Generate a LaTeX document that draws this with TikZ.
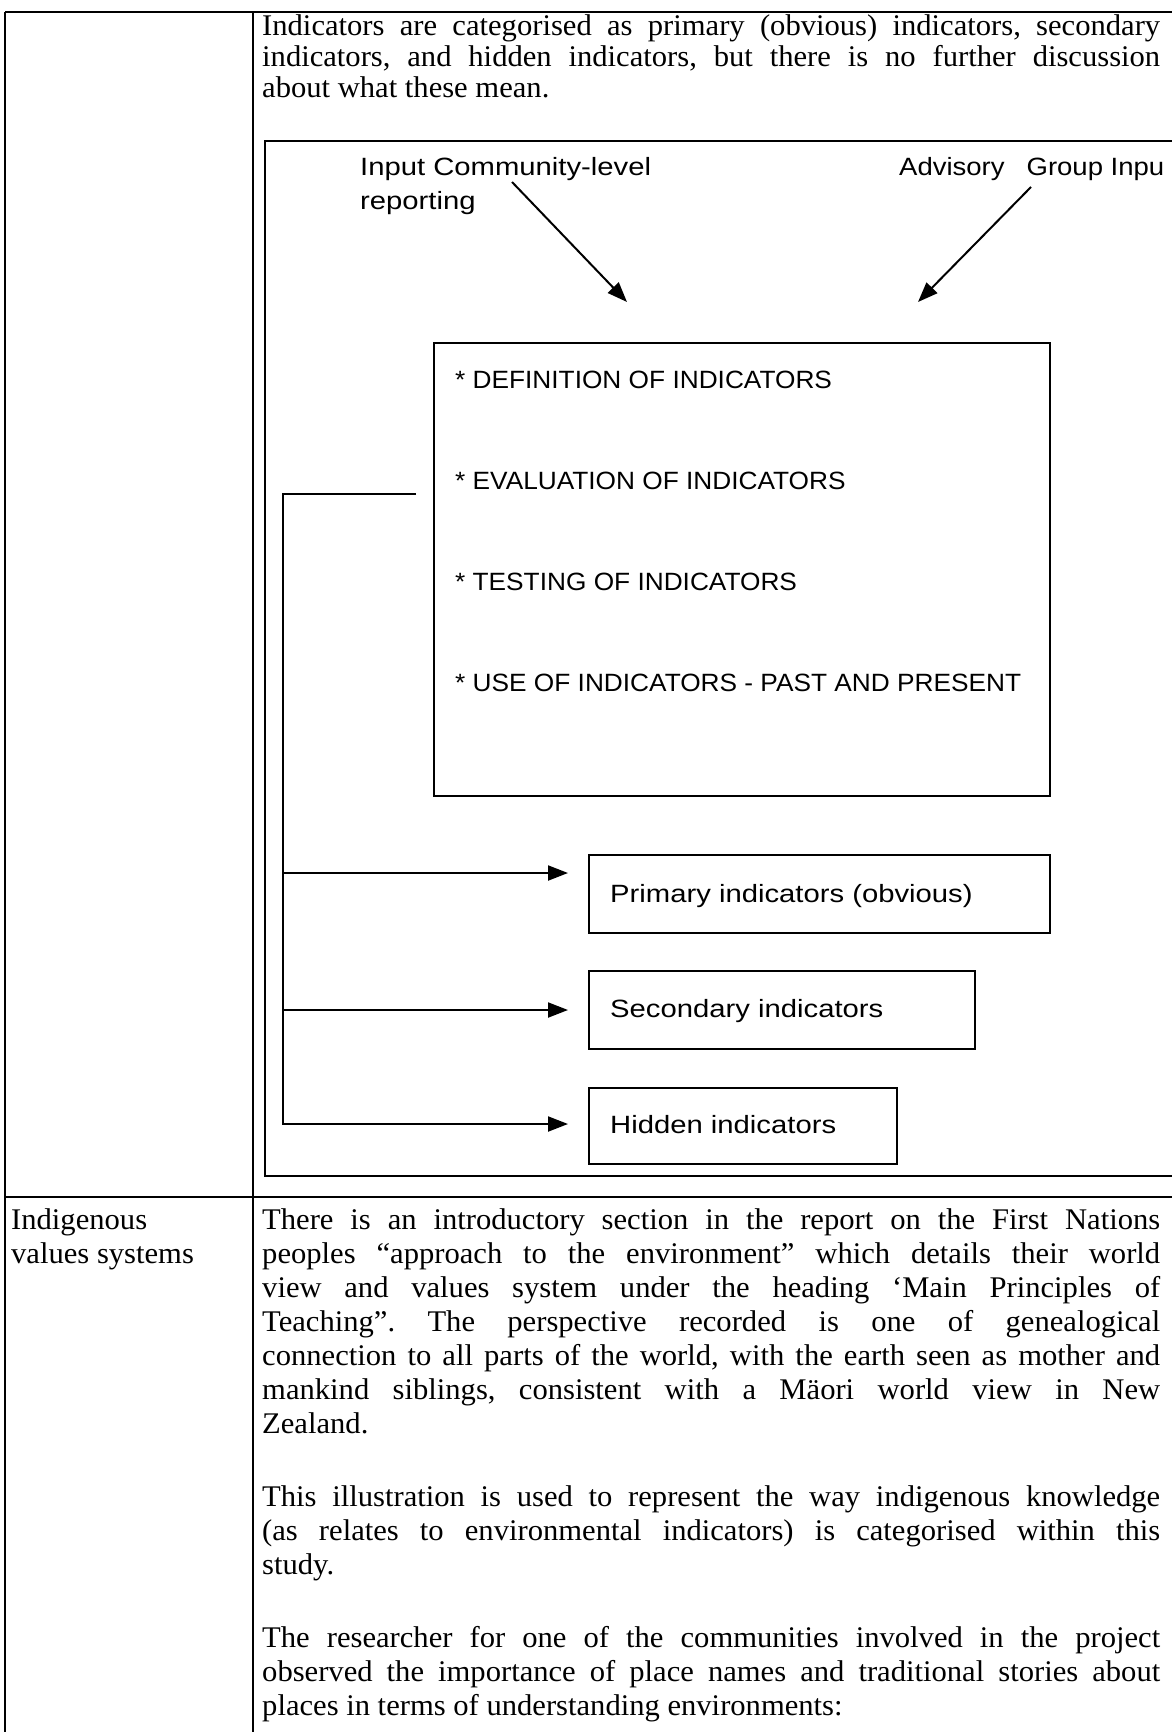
\documentclass[tikz,border=0pt]{standalone}
\usepackage{fontspec}
\setmainfont{Liberation Serif}
\newfontfamily\bodyfont[FakeStretch=1.02]{Liberation Serif}
\newfontfamily\plotcaps[FakeStretch=1.05]{Liberation Sans}
\newfontfamily\plotmid[FakeStretch=1.1]{Liberation Sans}
\newfontfamily\plotlower[FakeStretch=1.17]{Liberation Sans}
\usetikzlibrary{arrows.meta}
\frenchspacing

% one justified line of the text column
\newcommand{\justline}[1]{\makebox[898pt][s]{#1}}

\begin{document}
\begin{tikzpicture}[x=1pt,y=-1pt,
  rule/.style={line width=1.8pt},
  frame/.style={line width=2.2pt},
  box/.style={draw,line width=2pt,inner sep=0pt,anchor=north west},
  conn/.style={line width=2pt},
  arr/.style={conn,-{Triangle[length=20pt,width=15pt]}},
  body/.style={anchor=base west,inner sep=0pt,font=\bodyfont\fontsize{30}{32}\selectfont},
  caps/.style={anchor=base west,inner sep=0pt,font=\plotcaps\fontsize{25}{30}\selectfont},
  lower/.style={anchor=base west,inner sep=0pt,font=\plotlower\fontsize{25}{30}\selectfont}
]
\useasboundingbox (0,0) rectangle (1171,1732);

% table rules
\draw[rule] (5,12) -- (1180,12);
\draw[rule] (5,12) -- (5,1740);
\draw[rule] (253,12) -- (253,1740);
\draw[rule] (5,1197) -- (1180,1197);

% first row text
\node[body] (r1a) at (262,35) {\justline{Indicators are categorised as primary (obvious) indicators, secondary}};
\node[body] (r1b) at (262,66) {\justline{indicators, and hidden indicators, but there is no further discussion}};
\node[body] (r1c) at (262,97) {about what these mean.};

% figure frame
\draw[frame] (1180,141) -- (265,141) -- (265,1176) -- (1180,1176);

% inputs
\node[lower] (inleft) at (360,175) {Input Community-level};
\node[lower] (inleftb) at (360,209) {reporting};
\node[lower,font=\plotmid\fontsize{25}{30}\selectfont] (inright) at (899,175) {Advisory\hspace*{22pt}Group Inpu};

\coordinate (a1s) at (512,182);
\coordinate (a1e) at (627,302);
\coordinate (a2s) at (1031,187);
\coordinate (a2e) at (918,302);
\draw[arr] (a1s) -- (a1e);
\draw[arr] (a2s) -- (a2e);

% central box
\node[box,minimum width=616pt,minimum height=453pt] (core) at (433,342) {};
\node[caps] (t1) at (455,388) {* DEFINITION OF INDICATORS};
\node[caps] (t2) at (455,489) {* EVALUATION OF INDICATORS};
\node[caps] (t3) at (455,590) {* TESTING OF INDICATORS};
\node[caps] (t4) at (455,691) {* USE OF INDICATORS - PAST AND PRESENT};

% category boxes
\node[box,minimum width=461pt,minimum height=78pt] (prim) at (588,854) {};
\node[box,minimum width=386pt,minimum height=78pt] (sec) at (588,970) {};
\node[box,minimum width=308pt,minimum height=76pt] (hid) at (588,1087) {};
\node[lower] (primtxt) at (610,902) {Primary indicators (obvious)};
\node[lower] (sectxt) at (610,1017) {Secondary indicators};
\node[lower] (hidtxt) at (610,1133) {Hidden indicators};

% branching connector
\coordinate (feed) at (416,494);
\coordinate (trunk) at (283,494);
\coordinate (jp) at (283,873);
\coordinate (js) at (283,1010);
\coordinate (jh) at (283,1124);
\draw[arr,shorten >=20pt] (feed) -- (trunk) -- (jh) -- (jh -| hid.west);
\draw[arr,shorten >=20pt] (jp) -- (jp -| prim.west);
\draw[arr,shorten >=20pt] (js) -- (js -| sec.west);

% second row
\node[body] (lab1) at (11,1229) {Indigenous};
\node[body] (lab2) at (11,1263) {values systems};

\node[body] (p1) at (262,1229) {\justline{There is an introductory section in the report on the First Nations}};
\node[body] (p2) at (262,1263) {\justline{peoples “approach to the environment” which details their world}};
\node[body] (p3) at (262,1297) {\justline{view and values system under the heading ‘Main Principles of}};
\node[body] (p4) at (262,1331) {\justline{Teaching”. The perspective recorded is one of genealogical}};
\node[body] (p5) at (262,1365) {\justline{connection to all parts of the world, with the earth seen as mother and}};
\node[body] (p6) at (262,1399) {\justline{mankind siblings, consistent with a Mäori world view in New}};
\node[body] (p7) at (262,1433) {Zealand.};

\node[body] (q1) at (262,1506) {\justline{This illustration is used to represent the way indigenous knowledge}};
\node[body] (q2) at (262,1540) {\justline{(as relates to environmental indicators) is categorised within this}};
\node[body] (q3) at (262,1574) {study.};

\node[body] (s1) at (262,1647) {\justline{The researcher for one of the communities involved in the project}};
\node[body] (s2) at (262,1681) {\justline{observed the importance of place names and traditional stories about}};
\node[body] (s3) at (262,1715) {places in terms of understanding environments:};
\end{tikzpicture}
\end{document}
